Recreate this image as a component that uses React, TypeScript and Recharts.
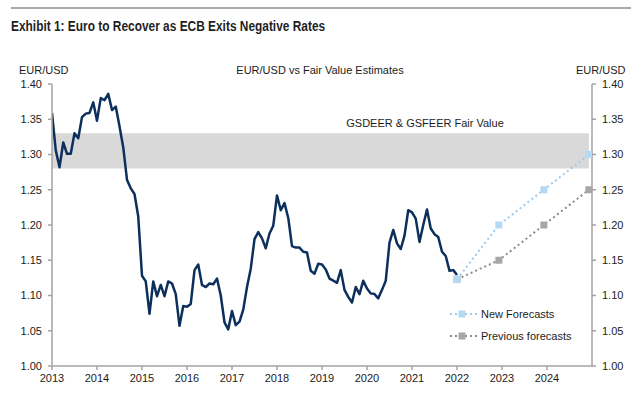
import React from 'react';
import { ComposedChart, Line, XAxis, YAxis, ReferenceArea, ReferenceDot, Legend } from 'recharts';

// ---- Data ----
const historyStartYear = 2013;
// Monthly EUR/USD, Jan 2013 .. Jan 2022
const eurusdMonthly = [
  1.359, 1.306, 1.282, 1.317, 1.301, 1.301, 1.330, 1.323, 1.353, 1.358, 1.359, 1.374,
  1.348, 1.380, 1.377, 1.386, 1.363, 1.368, 1.340, 1.310, 1.264, 1.252, 1.244, 1.212,
  1.128, 1.120, 1.074, 1.120, 1.099, 1.115, 1.099, 1.120, 1.117, 1.102, 1.057, 1.085,
  1.084, 1.088, 1.136, 1.144, 1.115, 1.112, 1.117, 1.116, 1.124, 1.100, 1.062, 1.052,
  1.078, 1.058, 1.063, 1.080, 1.112, 1.138, 1.180, 1.190, 1.181, 1.167, 1.188, 1.199,
  1.242, 1.221, 1.231, 1.210, 1.170, 1.168, 1.168, 1.162, 1.161, 1.135, 1.131, 1.145,
  1.144, 1.137, 1.124, 1.121, 1.118, 1.136, 1.108, 1.098, 1.090, 1.112, 1.102, 1.121,
  1.110, 1.103, 1.102, 1.096, 1.108, 1.121, 1.175, 1.193, 1.174, 1.166, 1.185, 1.221,
  1.218, 1.209, 1.176, 1.200, 1.222, 1.195, 1.187, 1.183, 1.162, 1.156, 1.135, 1.136,
  1.129,
];
const forecastYears = [2022.0, 2022.93, 2023.93, 2024.93];
const newForecasts = [1.123, 1.2, 1.25, 1.3];
const previousForecasts = [1.123, 1.15, 1.2, 1.25];
const fairValueLow = 1.28;
const fairValueHigh = 1.33;
const fairValueEndYear = 2024.93;
const fairValueLabel = 'GSDEER & GSFEER Fair Value';
const fairValueLabelX = 2021.29;
const fairValueLabelY = 1.345;
const xTicks = [2013, 2014, 2015, 2016, 2017, 2018, 2019, 2020, 2021, 2022, 2023, 2024];
const xDomain = [2013, 2025];
const yTicks = [1.0, 1.05, 1.1, 1.15, 1.2, 1.25, 1.3, 1.35, 1.4];
const yDomain = [1.0, 1.4];

const historyData = eurusdMonthly.map((v, i) => ({ x: historyStartYear + i / 12, y: v }));
const newData = forecastYears.map((x, i) => ({ x, y: newForecasts[i] }));
const prevData = forecastYears.map((x, i) => ({ x, y: previousForecasts[i] }));

// ---- Styles ----
const navy = '#0c2f5c';
const newLine = '#9ec9eb';
const newMarker = '#b5d9f3';
const prevLine = '#8c8c8c';
const prevMarker = '#a6a6a6';
const axisColor = '#a3a3a3';
const textColor = '#1c1c1c';
const font = '"Liberation Sans", Arial, sans-serif';

const legendItems = [
  { name: 'New Forecasts', line: newLine, marker: newMarker },
  { name: 'Previous forecasts', line: prevLine, marker: prevMarker },
];

const squareDot = (color: string) => (props: any) => {
  const { cx, cy, index } = props;
  if (cx == null || cy == null) return <g key={index} />;
  return <rect key={index} x={cx - 3.5} y={cy - 3.5} width={7} height={7} fill={color} />;
};

function ForecastLegend() {
  return (
    <div style={{ display: 'flex', flexDirection: 'column', fontFamily: font }}>
      {legendItems.map((it) => (
        <div key={it.name} style={{ display: 'flex', alignItems: 'center', height: 22 }}>
          <svg width={30} height={10} style={{ display: 'block' }}>
            <line x1={1} x2={29} y1={5} y2={5} stroke={it.line} strokeWidth={2} strokeDasharray="2 3" />
            <rect x={9.5} y={1.5} width={7} height={7} fill={it.marker} />
          </svg>
          <span style={{ marginLeft: 2, fontSize: 11, color: textColor, whiteSpace: 'nowrap' }}>{it.name}</span>
        </div>
      ))}
    </div>
  );
}

const fmt = (v: number) => v.toFixed(2);

export default function App() {
  return (
    <div style={{ position: 'absolute', left: 0, top: 0, width: 640, height: 399, background: '#fff', fontFamily: font }}>
      <div style={{ position: 'absolute', left: 11, top: 7, width: 620, height: 2, background: '#a8a8a8' }} />
      <div
        style={{
          position: 'absolute', left: 11, top: 17, fontFamily: '"Liberation Sans Narrow", "Arial Narrow", "Liberation Sans", sans-serif',
          fontWeight: 'bold', fontSize: 14, lineHeight: '18px', color: '#1f1f1f', whiteSpace: 'nowrap',
          transform: 'scaleX(0.85)', transformOrigin: 'left center',
        }}
      >
        Exhibit 1: Euro to Recover as ECB Exits Negative Rates
      </div>
      <div style={{ position: 'absolute', left: 19, top: 63, fontSize: 11, lineHeight: '14px', color: textColor }}>EUR/USD</div>
      <div style={{ position: 'absolute', left: 0, width: 640, textAlign: 'center', top: 63, fontSize: 11, lineHeight: '14px', color: textColor }}>
        EUR/USD vs Fair Value Estimates
      </div>
      <div style={{ position: 'absolute', left: 576, top: 63, fontSize: 11, lineHeight: '14px', color: textColor }}>EUR/USD</div>
      <div style={{ position: 'absolute', left: 0, top: 0 }}>
        <ComposedChart width={640} height={399} margin={{ top: 84, right: 0, bottom: 0, left: 0 }}>
          <XAxis
            dataKey="x"
            type="number"
            domain={xDomain}
            ticks={xTicks}
            allowDataOverflow
            height={33}
            stroke={axisColor}
            strokeWidth={1.5}
            tickSize={4}
            tickMargin={4}
            tick={{ fill: textColor, fontSize: 11, fontFamily: font }}
            tickLine={{ stroke: axisColor }}
          />
          <YAxis
            yAxisId="left"
            orientation="left"
            type="number"
            domain={yDomain}
            ticks={yTicks}
            width={52}
            stroke={axisColor}
            strokeWidth={1.5}
            tickSize={4}
            tickMargin={6}
            tickFormatter={fmt}
            tick={{ fill: textColor, fontSize: 11, fontFamily: font }}
          />
          <YAxis
            yAxisId="right"
            orientation="right"
            type="number"
            domain={yDomain}
            ticks={yTicks}
            width={48}
            stroke={axisColor}
            strokeWidth={1.5}
            tickSize={4}
            tickMargin={6}
            tickFormatter={fmt}
            tick={{ fill: textColor, fontSize: 11, fontFamily: font }}
          />
          <ReferenceArea
            yAxisId="left"
            x1={xDomain[0]}
            x2={fairValueEndYear}
            y1={fairValueLow}
            y2={fairValueHigh}
            fill="#d9d9d9"
            fillOpacity={1}
            stroke="none"
          />
          <ReferenceDot
            yAxisId="left"
            x={fairValueLabelX}
            y={fairValueLabelY}
            r={0}
            fill="none"
            stroke="none"
            label={{ value: fairValueLabel, position: 'center', fill: textColor, fontSize: 11, fontFamily: font }}
          />
          <Line
            yAxisId="left"
            data={historyData}
            dataKey="y"
            stroke={navy}
            strokeWidth={2.5}
            strokeLinejoin="round"
            dot={false}
            isAnimationActive={false}
            name="EUR/USD"
          />
          <Line
            yAxisId="right"
            data={prevData}
            dataKey="y"
            stroke={prevLine}
            strokeWidth={2}
            strokeDasharray="2 3"
            dot={squareDot(prevMarker)}
            isAnimationActive={false}
            name="Previous forecasts"
          />
          <Line
            yAxisId="right"
            data={newData}
            dataKey="y"
            stroke={newLine}
            strokeWidth={2}
            strokeDasharray="2 3"
            dot={squareDot(newMarker)}
            isAnimationActive={false}
            name="New Forecasts"
          />
          <Legend
            layout="horizontal"
            verticalAlign="middle"
            align="center"
            wrapperStyle={{ position: 'absolute', left: 449, top: 303, width: 160 }}
            content={() => <ForecastLegend />}
          />
        </ComposedChart>
      </div>
    </div>
  );
}
